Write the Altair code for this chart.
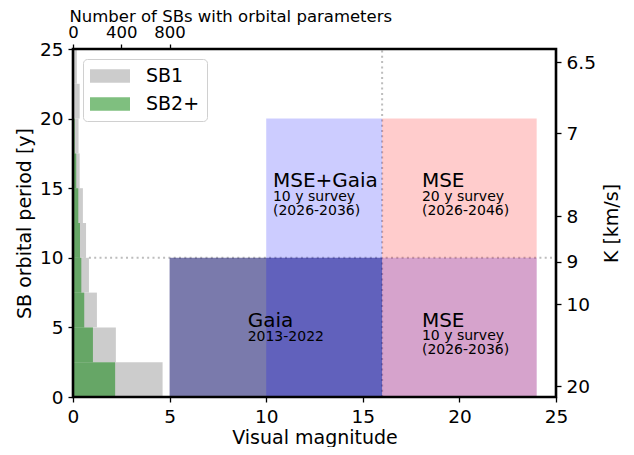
import altair as alt
import pandas as pd

# ---- histogram data (period bins in years, counts of SBs) ----
bin_lo = [0, 2.5, 5, 7.5, 10, 12.5, 15, 17.5, 20, 22.5]
bin_hi = [2.5, 5, 7.5, 10, 12.5, 15, 17.5, 20, 22.5, 25]
sb1_counts = [742, 355, 198, 132, 108, 82, 55, 46, 55, 32]
sb2_counts = [349, 165, 93, 69, 58, 44, 27, 14, 8, 5]
series_names = ["SB1", "SB2+"]

# ---- survey regions (magnitude range, period range) ----
reg_x = [5, 10, 16, 16]
reg_x2 = [16, 16, 24, 24]
reg_y = [0, 0, 0, 0]
reg_y2 = [10, 20, 10, 20]
reg_fill = ["#00005f", "#0000ff", "#0000ff", "#ff0000"]
reg_op = [0.52, 0.2, 0.2, 0.2]

# ---- dotted guide lines ----
ln_x = [0, 16]
ln_x2 = [25, 16]
ln_y = [10, 0]
ln_y2 = [10, 25]

# ---- annotations ----
txt = ["Gaia", "2013-2022", "MSE", "10 y survey", "(2026-2036)",
       "MSE+Gaia", "10 y survey", "(2026-2036)", "MSE", "20 y survey", "(2026-2046)"]
txt_x = [9.04, 9.04, 18.06, 18.06, 18.06, 10.35, 10.35, 10.35, 18.06, 18.06, 18.06]
txt_y = [5.02, 4.0, 5.02, 4.12, 3.08, 15.07, 14.1, 13.08, 15.07, 14.1, 13.08]
txt_fs = [20, 14, 20, 14, 14, 20, 14, 14, 20, 14, 14]

# ---- right axis (K) ----
k_labels = ["6.5", "7", "8", "9", "10", "20"]
k_pos = [24.05, 18.95, 12.97, 9.73, 6.65, 0.79]

# ---- frame extents (count axis x period axis) ----
frame_x = [0]
frame_x2 = [4000]
frame_y = [0]
frame_y2 = [25]

hist_rows = []
for name, counts in zip(series_names, [sb1_counts, sb2_counts]):
    for lo, hi, c in zip(bin_lo, bin_hi, counts):
        hist_rows.append({"series": name, "lo": lo, "hi": hi, "zero": 0, "count": c})
hist_df = pd.DataFrame(hist_rows)
reg_df = pd.DataFrame({"x": reg_x, "x2": reg_x2, "y": reg_y, "y2": reg_y2,
                       "fill": reg_fill, "op": reg_op})
ln_df = pd.DataFrame({"x": ln_x, "x2": ln_x2, "y": ln_y, "y2": ln_y2})
txt_df = pd.DataFrame({"t": txt, "x": txt_x, "y": txt_y, "fs": txt_fs})
frame_df = pd.DataFrame({"x": frame_x, "x2": frame_x2, "y": frame_y, "y2": frame_y2})

FONT = "DejaVu Sans"
mag_scale = alt.Scale(domain=[0, 25], nice=False, zero=False)
per_scale = alt.Scale(domain=[0, 25], nice=False, zero=False)
cnt_scale = alt.Scale(domain=[0, 4000], nice=False, zero=True)

x_axis = alt.Axis(orient="bottom", values=[0, 5, 10, 15, 20, 25], title="Visual magnitude",
                  labelPadding=5, labelFlush=False, titleX=241.5, titleY=46,
                  titleBaseline="alphabetic", titleAlign="center")
y_axis = alt.Axis(orient="left", values=[0, 5, 10, 15, 20, 25], title="SB orbital period [y]",
                  labelPadding=5, labelFlush=False, titleX=-43, titleY=174, titleAngle=270,
                  titleBaseline="alphabetic", titleAlign="center")

lines = alt.Chart(ln_df).mark_rule(color="#bdbdbd", strokeWidth=2, strokeDash=[2, 3.3]).encode(
    x=alt.X("x:Q", scale=mag_scale, axis=x_axis),
    x2="x2:Q",
    y=alt.Y("y:Q", scale=per_scale, axis=y_axis),
    y2="y2:Q",
)
regions = alt.Chart(reg_df).mark_rect().encode(
    x=alt.X("x:Q", scale=mag_scale, axis=x_axis),
    x2="x2:Q",
    y=alt.Y("y:Q", scale=per_scale, axis=y_axis),
    y2="y2:Q",
    color=alt.Color("fill:N", scale=None),
    opacity=alt.Opacity("op:Q", scale=None),
)
texts = alt.Chart(txt_df).mark_text(align="left", baseline="alphabetic", font=FONT, color="black").encode(
    x=alt.X("x:Q", scale=mag_scale, axis=x_axis),
    y=alt.Y("y:Q", scale=per_scale, axis=y_axis),
    text="t:N",
    size=alt.Size("fs:Q", scale=None),
)
main = alt.layer(lines, regions, texts)

label_expr = ""
for lab, pos in zip(k_labels, k_pos):
    label_expr += f"abs(datum.value-{pos})<0.001 ? '{lab}' : "
label_expr += "''"

top_axis = alt.Axis(orient="top", values=[0, 400, 800], format="d",
                    title="Number of SBs with orbital parameters",
                    labelFontSize=16.5, titleFontSize=16.5, labelPadding=4, labelFlush=False,
                    titleX=-4, titleY=-28, titleAlign="left", titleAnchor="start",
                    titleBaseline="alphabetic")
right_axis = alt.Axis(orient="right", values=k_pos, labelExpr=label_expr, title="K [km/s]",
                      labelPadding=5, labelFlush=False, titleX=61, titleY=174, titleAngle=270,
                      titleBaseline="alphabetic", titleAlign="center")

bars = alt.Chart(hist_df).mark_rect().encode(
    x=alt.X("zero:Q", scale=cnt_scale, axis=top_axis),
    x2="count:Q",
    y=alt.Y("lo:Q", scale=per_scale, axis=right_axis),
    y2="hi:Q",
    color=alt.Color("series:N", scale=alt.Scale(domain=series_names, range=["#cccccc", "#008000"]),
                    legend=alt.Legend(title=None, orient="top-left")),
    opacity=alt.Opacity("series:N", scale=alt.Scale(domain=series_names, range=[1, 0.5]),
                        legend=alt.Legend(title=None, orient="top-left")),
    order=alt.Order("series:N"),
)
frame = alt.Chart(frame_df).mark_rect(fill=None, fillOpacity=0, stroke="black", strokeWidth=2.6).encode(
    x=alt.X("x:Q", scale=cnt_scale, axis=top_axis),
    x2="x2:Q",
    y=alt.Y("y:Q", scale=per_scale, axis=right_axis),
    y2="y2:Q",
)
hist = alt.layer(bars, frame)

chart = alt.layer(main, hist).resolve_scale(
    x="independent", y="independent"
).properties(
    width=483, height=348,
    padding={"left": 65, "top": 41, "right": 68, "bottom": 50},
    autosize=alt.AutoSizeParams(type="none"),
).configure(font=FONT).configure_view(
    stroke=None
).configure_axis(
    domain=False, grid=False, tickColor="black", tickSize=5, tickWidth=1.3,
    labelColor="black", titleColor="black", labelFont=FONT, titleFont=FONT,
    labelFontSize=18.5, titleFontSize=19, titleFontWeight="normal",
).configure_legend(
    offset=10, padding=7, cornerRadius=4, strokeColor="#d0d0d0", fillColor="white",
    symbolType="M-1,-0.667H3V0.667H-1Z", symbolSize=400, symbolStrokeWidth=0,
    labelFontSize=19, labelFont=FONT, labelColor="black", labelOffset=36, rowPadding=8,
)

chart.save("out.html", embed_options={"renderer": "svg", "actions": False})
